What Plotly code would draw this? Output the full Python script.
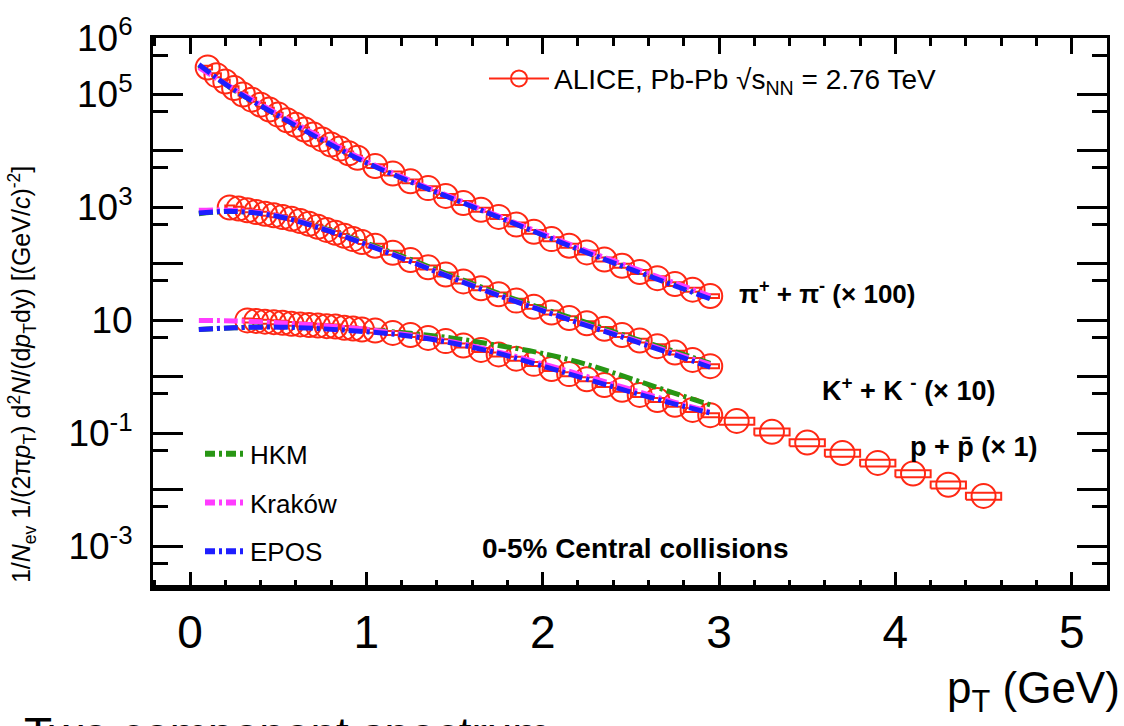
import numpy as np
import plotly.graph_objects as go

# ---------------- data ----------------
pi_pt = [0.10, 0.15, 0.20, 0.25, 0.30, 0.35, 0.40, 0.45, 0.50, 0.55, 0.60, 0.65, 0.70, 0.75, 0.80, 0.85, 0.90, 0.95,
         1.05, 1.15, 1.25, 1.35, 1.45, 1.55, 1.65, 1.75, 1.85, 1.95, 2.05, 2.15, 2.25, 2.35, 2.45, 2.55, 2.65, 2.75, 2.85, 2.95]
pi_y = [3.0e5, 2.2e5, 1.7e5, 1.3e5, 1.0e5, 8.1e4, 6.6e4, 5.4e4, 4.4e4, 3.5e4, 2.9e4, 2.4e4, 1.95e4, 1.6e4, 1.3e4, 1.1e4, 9.1e3, 7.6e3,
        5.4e3, 4.0e3, 2.9e3, 2.2e3, 1.6e3, 1.2e3, 910, 680, 500, 370, 275, 210, 160, 120, 93, 72, 56, 44, 35, 27]

k_pt = [0.225, 0.275, 0.325, 0.375, 0.425, 0.475, 0.525, 0.575, 0.625, 0.675, 0.725, 0.775, 0.825, 0.875, 0.925, 0.975,
        1.05, 1.15, 1.25, 1.35, 1.45, 1.55, 1.65, 1.75, 1.85, 1.95, 2.05, 2.15, 2.25, 2.35, 2.45, 2.55, 2.65, 2.75, 2.85, 2.95]
k_y = [1000, 955, 890, 830, 775, 725, 675, 630, 575, 515, 455, 400, 355, 315, 275, 245,
       210, 158, 117, 87, 65, 49, 37, 29, 22.4, 17.4, 13.8, 11.0, 8.9, 7.1, 5.5, 4.4, 3.5, 2.7, 2.0, 1.55]

p_pt = [0.325, 0.375, 0.425, 0.475, 0.525, 0.575, 0.625, 0.675, 0.725, 0.775, 0.825, 0.875, 0.925, 0.975,
        1.05, 1.15, 1.25, 1.35, 1.45, 1.55, 1.65, 1.75, 1.85, 1.95, 2.05, 2.15, 2.25, 2.35, 2.45, 2.55, 2.65, 2.75, 2.85, 2.95,
        3.1, 3.3, 3.5, 3.7, 3.9, 4.1, 4.3, 4.5]
p_y = [10.0, 9.8, 9.5, 9.3, 9.1, 8.7, 8.5, 8.3, 8.1, 7.9, 7.8, 7.4, 7.2, 6.9,
       6.6, 6.0, 5.5, 4.9, 4.3, 3.6, 3.0, 2.5, 2.1, 1.7, 1.38, 1.12, 0.91, 0.72, 0.59, 0.48, 0.39, 0.32, 0.26, 0.21,
       0.166, 0.107, 0.069, 0.045, 0.030, 0.0195, 0.0123, 0.0078]

mod_pt = [0.05, 0.25, 0.5, 0.75, 1.0, 1.25, 1.5, 1.75, 2.0, 2.25, 2.5, 2.75, 2.95]
hkm_pi = [3.2e5, 1.2e5, 4.3e4, 1.6e4, 6.3e3, 2.9e3, 1.4e3, 680, 330, 162, 83, 43, 25]
krk_pi = [3.0e5, 1.25e5, 4.5e4, 1.7e4, 6.6e3, 3.0e3, 1.45e3, 700, 345, 170, 88, 46, 27]
epos_pi = [3.4e5, 1.2e5, 4.2e4, 1.55e4, 6.2e3, 2.85e3, 1.38e3, 670, 325, 158, 80, 41, 24]
hkm_k = [776, 851, 708, 437, 234, 120, 59, 30, 16.2, 9.1, 5.0, 2.8, 1.74]
krk_k = [891, 891, 708, 427, 224, 112, 55, 28, 15.1, 8.3, 4.7, 2.6, 1.66]
epos_k = [794, 851, 692, 417, 219, 110, 54, 27.5, 14.8, 8.1, 4.5, 2.45, 1.48]
hkm_p = [6.9, 7.4, 7.8, 7.4, 6.8, 5.9, 4.8, 3.6, 2.6, 1.66, 0.93, 0.51, 0.32]
krk_p = [10.0, 9.8, 9.1, 8.1, 6.9, 5.5, 4.1, 2.75, 1.7, 1.02, 0.60, 0.355, 0.24]
epos_p = [6.9, 7.4, 7.6, 7.1, 6.3, 5.25, 3.9, 2.6, 1.55, 0.91, 0.54, 0.33, 0.23]

y_tickvals = [1e-3, 1e-2, 1e-1, 1, 10, 1e2, 1e3, 1e4, 1e5, 1e6]
y_ticktext = ["10<sup>-3</sup>", "", "10<sup>-1</sup>", "", "10", "", "10<sup>3</sup>", "", "10<sup>5</sup>", "10<sup>6</sup>"]
y_minor = [5e-4, 5e-3, 5e-2, 0.5, 5, 50, 500, 5e3, 5e4, 5e5]
x_tickvals = [0, 1, 2, 3, 4, 5]

# ---------------- style ----------------
RED = "rgb(255,40,20)"
GREEN = "rgb(40,150,20)"
MAGENTA = "rgb(255,60,255)"
BLUE = "rgb(30,30,255)"
FONT = "Liberation Sans, Arial, sans-serif"
DASH = "14px,4px,3px,4px"

W, H = 1124, 726
L, R, T, B = 153, 17, 30, 138


def boxes(pt, y):
    pt = np.asarray(pt, float)
    y = np.asarray(y, float)
    xs, ys = [], []
    for x, v in zip(pt, y):
        hw = 0.025 if x < 1 else (0.05 if x < 3 else 0.1)
        r = 0.08 if x < 3 else 0.14
        xs += [x - hw, x + hw, x + hw, x - hw, x - hw, None]
        ys += [v * (1 - r), v * (1 - r), v * (1 + r), v * (1 + r), v * (1 - r), None]
    return xs, ys


fig = go.Figure()

# systematic boxes
for pt, y in [(pi_pt, pi_y), (k_pt, k_y), (p_pt, p_y)]:
    bx, by = boxes(pt, y)
    fig.add_trace(go.Scatter(x=bx, y=by, mode="lines", line=dict(color=RED, width=2),
                             showlegend=False, hoverinfo="skip"))

# data points
for pt, y in [(pi_pt, pi_y), (k_pt, k_y), (p_pt, p_y)]:
    fig.add_trace(go.Scatter(
        x=pt, y=y, mode="markers",
        marker=dict(symbol="circle-open", size=24, color=RED, line=dict(width=2, color=RED)),
        name="ALICE", showlegend=False))

# legend entry for ALICE
fig.add_trace(go.Scatter(
    x=[None], y=[None], mode="lines+markers",
    line=dict(color=RED, width=2),
    marker=dict(symbol="circle-open", size=22, color=RED, line=dict(width=2, color=RED)),
    name="ALICE, Pb-Pb \u221As<sub>NN</sub> = 2.76 TeV", legend="legend"))

# model curves
models = [
    ("HKM", GREEN, [hkm_pi, hkm_k, hkm_p]),
    ("Krak\u00f3w", MAGENTA, [krk_pi, krk_k, krk_p]),
    ("EPOS", BLUE, [epos_pi, epos_k, epos_p]),
]
for name, col, series in models:
    for s in series:
        fig.add_trace(go.Scatter(x=mod_pt, y=s, mode="lines", line=dict(color=col, width=5, dash=DASH, shape="spline"),
                                 showlegend=False, hoverinfo="skip"))

for name, col, series in models:
    fig.add_trace(go.Scatter(
        x=[None], y=[None], mode="lines", name=name, legend="legend2", legendgroup=name,
        line=dict(color=col, width=6, dash="10px,4px,3px,4px")))

pw, ph = W - L - R, H - T - B


def px(x):
    return (x - L) / pw


def py(y):
    return (H - B - y) / ph


fig.update_layout(
    width=W, height=H,
    margin=dict(l=L, r=R, t=T, b=B, pad=0),
    paper_bgcolor="white", plot_bgcolor="white",
    font=dict(family=FONT, color="black"),
    legend=dict(x=px(484), y=py(46), xanchor="left", yanchor="top",
                bgcolor="rgba(0,0,0,0)", font=dict(size=28, family=FONT), itemwidth=60),
    legend2=dict(x=px(200), y=py(428), xanchor="left", yanchor="top",
                 bgcolor="rgba(0,0,0,0)", font=dict(size=26, family=FONT), tracegroupgap=12, itemwidth=40),
)

fig.update_xaxes(
    range=[-0.21, 5.2], showgrid=False, zeroline=False,
    showline=True, linecolor="black", linewidth=3, mirror="ticks",
    ticks="inside", ticklen=16, tickwidth=3, tickcolor="black",
    tickvals=x_tickvals, ticktext=[str(v) for v in x_tickvals],
    tickfont=dict(size=46, family=FONT), ticklabelstandoff=2,
    minor=dict(dtick=0.2, tick0=0, ticks="inside", ticklen=8, tickwidth=3, tickcolor="black", showgrid=False),
)
fig.update_yaxes(
    type="log", range=[-3.738, 6.0], showgrid=False, zeroline=False,
    showline=True, linecolor="black", linewidth=3, mirror="ticks",
    ticks="inside", ticklen=30, tickwidth=3, tickcolor="black",
    tickvals=y_tickvals, ticktext=y_ticktext,
    tickfont=dict(size=37, family=FONT), ticklabelstandoff=10,
    minor=dict(tickvals=y_minor, ticks="inside", ticklen=15, tickwidth=3, tickcolor="black", showgrid=False),
)

# thicker bottom frame line
fig.add_shape(type="line", xref="paper", yref="paper", x0=0, x1=1, y0=0, y1=0,
              line=dict(color="black", width=6))

ann = [
    dict(text="<b>\u03c0<sup>+</sup> + \u03c0<sup>-</sup> (\u00d7 100)</b>", x=px(737), y=py(288), size=26),
    dict(text="<b>K<sup>+</sup> + K <sup>-</sup> (\u00d7 10)</b>", x=px(820), y=py(386), size=27),
    dict(text="<b>p + p\u0304 (\u00d7 1)</b>", x=px(908), y=py(445), size=27),
    dict(text="<b>0-5% Central collisions</b>", x=px(480), y=py(548), size=28),
]
for a in ann:
    fig.add_annotation(text=a["text"], x=a["x"], y=a["y"], xref="paper", yref="paper",
                       xanchor="left", yanchor="middle", showarrow=False,
                       font=dict(size=a["size"], family=FONT, color="black"))

# axis titles
fig.add_annotation(text="p<sub>T</sub> (GeV)", x=px(1122), y=py(693), xref="paper", yref="paper",
                   xanchor="right", yanchor="middle", showarrow=False,
                   font=dict(size=44, family=FONT, color="black"))
fig.add_annotation(
    text="1/<i>N</i><sub>ev</sub> 1/(2\u03c0<i>p</i><sub>T</sub>) d<sup>2</sup><i>N</i>/(d<i>p</i><sub>T</sub>dy) [(GeV/<i>c</i>)<sup>-2</sup>]",
    x=px(22), y=py(372), xref="paper", yref="paper", textangle=-90,
    xanchor="center", yanchor="middle", showarrow=False,
    font=dict(size=25, family=FONT, color="black"))

# slide text cut off at bottom
fig.add_annotation(text="Two component spectrum", x=px(22), y=py(708), xref="paper", yref="paper",
                   xanchor="left", yanchor="top", showarrow=False,
                   font=dict(size=46, family=FONT, color="black"))

fig.write_html("out.html")
